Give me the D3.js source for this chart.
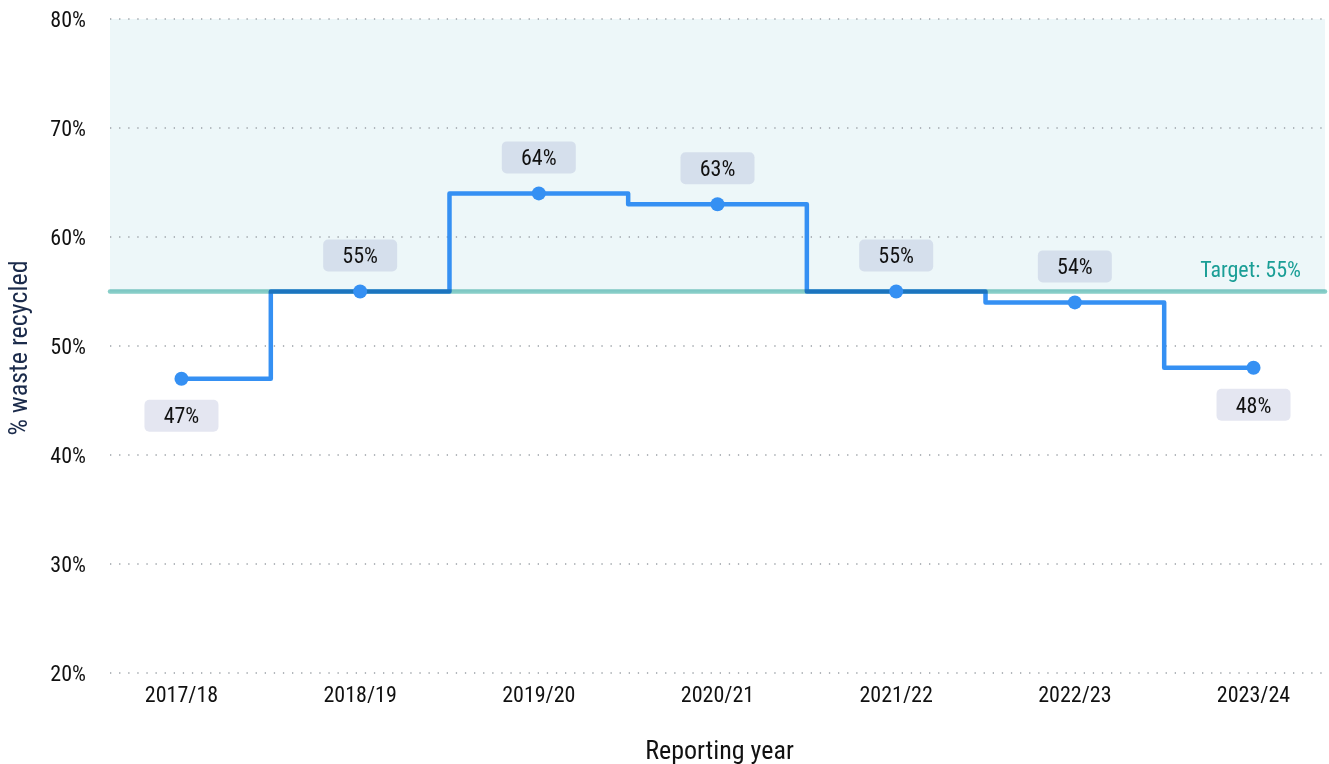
<!DOCTYPE html>
<html>
<head>
<meta charset="utf-8">
<script src="https://cdn.jsdelivr.net/npm/d3@7"></script>
<style>
  body { margin: 0; background: #fff; }
  text { font-family: "Liberation Sans Narrow", "Roboto Condensed", Roboto, sans-serif; }
</style>
</head>
<body>
<div id="chart"></div>
<script>
(function() {
  // Data
  const years = ["2017/18", "2018/19", "2019/20", "2020/21", "2021/22", "2022/23", "2023/24"];
  const recycled = [47, 55, 64, 63, 55, 54, 48];
  const yTicks = [20, 30, 40, 50, 60, 70, 80];
  const target = 55;

  // Layout
  const W = 1329, H = 764;
  const margin = {top: 19, right: 4, bottom: 91, left: 110};
  const width = W - margin.left - margin.right,
        height = H - margin.top - margin.bottom;

  const x = d3.scalePoint().domain(years).range([0, width]).padding(0.4);
  const y = d3.scaleLinear().domain([20, 80]).range([height, 0]);

  const svg = d3.select("#chart").append("svg")
      .attr("width", W).attr("height", H);
  const g = svg.append("g")
      .attr("transform", `translate(${margin.left},${margin.top})`);

  // Target zone shading
  g.append("rect")
      .attr("x", 0).attr("y", y(80))
      .attr("width", width).attr("height", y(target) - y(80))
      .attr("fill", "#edf7f9");

  // Grid lines
  g.append("g").selectAll("line").data(yTicks).enter().append("line")
      .attr("x1", 0).attr("x2", width)
      .attr("y1", d => y(d)).attr("y2", d => y(d))
      .attr("stroke", "#9aa0a6").attr("stroke-width", 1.3)
      .attr("stroke-dasharray", "1.3,7.8");

  // Y axis labels
  g.append("g").selectAll("text").data(yTicks).enter().append("text")
      .attr("x", -24).attr("y", d => y(d)).attr("dy", "0.35em")
      .attr("text-anchor", "end").attr("font-size", 22).attr("fill", "#111")
      .text(d => d + "%");

  // X axis labels
  g.append("g").selectAll("text").data(years).enter().append("text")
      .attr("x", d => x(d)).attr("y", height + 21).attr("dy", "0.35em")
      .attr("text-anchor", "middle").attr("font-size", 22).attr("fill", "#111")
      .text(d => d);

  // Axis titles
  svg.append("text")
      .attr("transform", `translate(27,${margin.top + y(50) + 2}) rotate(-90)`)
      .attr("text-anchor", "middle").attr("font-size", 26).attr("fill", "#1b2b4b")
      .text("% waste recycled");
  svg.append("text")
      .attr("x", margin.left + width / 2 + 2).attr("y", 759)
      .attr("text-anchor", "middle").attr("font-size", 26).attr("fill", "#111")
      .text("Reporting year");

  // Step line
  const pts = years.map((d, i) => [x(d), y(recycled[i])]);
  g.append("path")
      .attr("d", d3.line().curve(d3.curveStep)(pts))
      .attr("fill", "none").attr("stroke", "#3590f3")
      .attr("stroke-width", 4.5).attr("stroke-linejoin", "round")
      .attr("stroke-linecap", "round");

  // Target line
  g.append("line")
      .attr("x1", 0).attr("x2", width)
      .attr("y1", y(target)).attr("y2", y(target))
      .attr("stroke", "#5fbdb5").attr("stroke-width", 4.5)
      .attr("stroke-linecap", "round")
      .attr("opacity", 0.75)
      .style("mix-blend-mode", "multiply");
  g.append("text")
      .attr("x", width - 24).attr("y", y(target) - 22).attr("dy", "0.35em")
      .attr("text-anchor", "end").attr("font-size", 22).attr("fill", "#1a9e96")
      .text(`Target: ${target}%`);

  // Points
  g.append("g").selectAll("circle").data(pts).enter().append("circle")
      .attr("cx", d => d[0]).attr("cy", d => d[1]).attr("r", 7)
      .attr("fill", "#3590f3");

  // Value labels
  const lab = g.append("g").selectAll("g").data(recycled).enter().append("g")
      .attr("transform", (d, i) => `translate(${x(years[i])},${y(d) + (d < 50 ? 37 : -36)})`);
  lab.append("rect")
      .attr("x", -37).attr("y", -16).attr("width", 74).attr("height", 32)
      .attr("rx", 5).attr("fill", "rgba(120,130,185,0.2)");
  lab.append("text")
      .attr("dy", "0.35em").attr("text-anchor", "middle")
      .attr("font-size", 22).attr("fill", "#111")
      .text(d => d + "%");
})();
</script>
</body>
</html>
